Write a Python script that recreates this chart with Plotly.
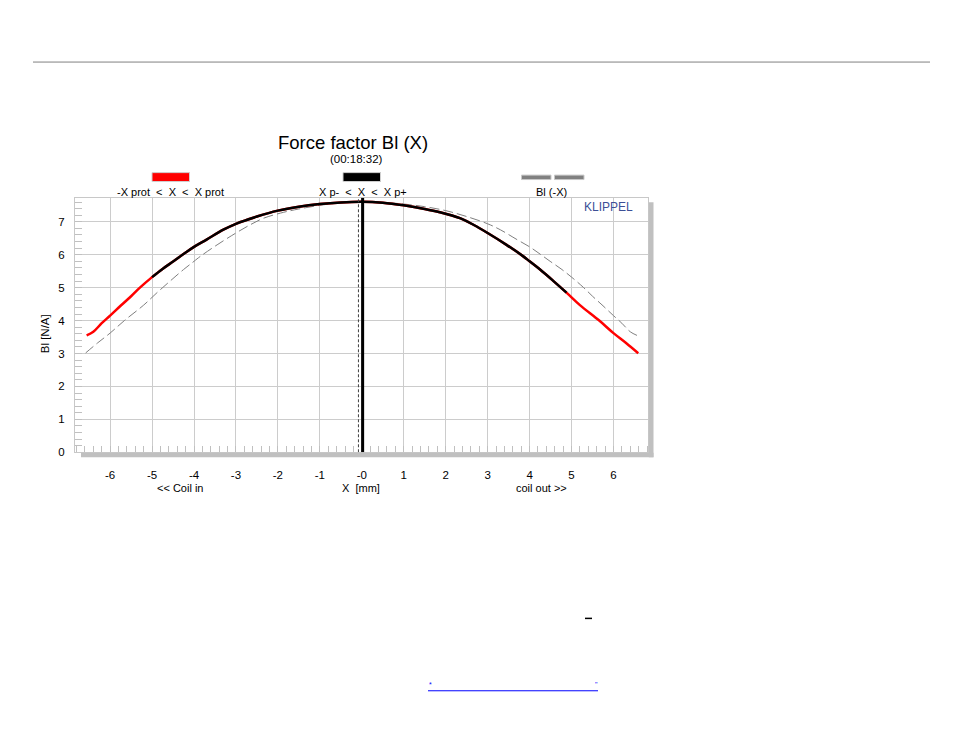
import plotly.graph_objects as go

# page body has an 8px margin: the figure is sized to fit inside it
PAGE_W, PAGE_H = 954, 738
OFF = 8
W, H = PAGE_W - 2 * OFF, PAGE_H - 2 * OFF

# Force factor Bl(X) measured curve (x in mm, Bl in N/A)
x_mm = [-6.56, -6.4, -6.2, -6.0, -5.75, -5.5, -5.29, -5.0, -4.75, -4.49, -4.25, -4.0,
        -3.7, -3.3, -3.0, -2.5, -2.0, -1.5, -1.0, -0.5, 0.0, 0.5, 1.0, 1.5, 1.86,
        2.34, 2.66, 3.0, 3.45, 3.85, 4.0, 4.25, 4.57, 4.88, 5.2, 5.66, 6.0, 6.3, 6.59]
bl = [3.55, 3.66, 3.92, 4.15, 4.45, 4.74, 5.0, 5.32, 5.57, 5.80, 6.02, 6.24,
      6.46, 6.76, 6.94, 7.16, 7.34, 7.46, 7.54, 7.59, 7.61, 7.58, 7.50, 7.39, 7.29,
      7.11, 6.91, 6.66, 6.30, 5.95, 5.80, 5.55, 5.20, 4.85, 4.47, 4.0, 3.62, 3.32, 3.01]

xp_minus = -5.0     # X p-
xp_plus = 4.88      # X p+
x_rest = 0.02       # solid vertical marker
x_offset = -0.08    # dashed vertical marker

x_tickvals = [-6, -5, -4, -3, -2, -1, 0, 1, 2, 3, 4, 5, 6]
x_ticktext = ["-6", "-5", "-4", "-3", "-2", "-1", "-0", "1", "2", "3", "4", "5", "6"]
y_tickvals = [0, 1, 2, 3, 4, 5, 6, 7]
y_ticktext = ["0", "1", "2", "3", "4", "5", "6", "7"]

x_range = [-6.837, 6.830]
y_range = [0, 7.732]

FONT = "Liberation Sans, Arial, sans-serif"


def px(v):
    return (v - OFF) / W


def py(v):
    return 1 - (v - OFF) / H


fig = go.Figure()

# Bl(-X): mirrored curve
fig.add_trace(go.Scatter(
    x=[-v for v in x_mm], y=bl, mode="lines", line_shape="spline",
    line=dict(color="#7f7f7f", width=1, dash="10px,4px"), hoverinfo="skip"))
# -Xprot < X < Xprot
fig.add_trace(go.Scatter(
    x=x_mm, y=bl, mode="lines", line_shape="spline",
    line=dict(color="#ff0000", width=2.5), hoverinfo="skip"))
# Xp- < X < Xp+
inner = [(a, b) for a, b in zip(x_mm, bl) if xp_minus <= a <= xp_plus]
fig.add_trace(go.Scatter(
    x=[a for a, _ in inner], y=[b for _, b in inner], mode="lines", line_shape="spline",
    line=dict(color="#000000", width=2.5), hoverinfo="skip"))

shapes = []
# vertical markers
shapes.append(dict(type="line", xref="x", yref="y", x0=x_offset, x1=x_offset,
                   y0=y_range[0], y1=y_range[1],
                   line=dict(color="#404040", width=1, dash="3px,2px")))
shapes.append(dict(type="line", xref="x", yref="y", x0=x_rest, x1=x_rest,
                   y0=y_range[0], y1=y_range[1],
                   line=dict(color="#000000", width=3)))
# top rule
shapes.append(dict(type="line", xref="paper", yref="paper",
                   x0=px(33), x1=px(930), y0=py(62.5), y1=py(62.5),
                   line=dict(color="#808080", width=1)))
# plot shadows
shapes.append(dict(type="rect", xref="paper", yref="paper",
                   x0=px(648.8), x1=px(653.5), y0=py(204), y1=py(461),
                   fillcolor="#c0c0c0", line=dict(width=0)))
shapes.append(dict(type="rect", xref="paper", yref="paper",
                   x0=px(81), x1=px(653.5), y0=py(456.5), y1=py(461),
                   fillcolor="#c0c0c0", line=dict(width=0)))
# legend swatches
shapes.append(dict(type="rect", xref="paper", yref="paper",
                   x0=px(152), x1=px(189.5), y0=py(174), y1=py(183),
                   fillcolor="#ff0000", line=dict(color="#d0d0d0", width=1)))
shapes.append(dict(type="rect", xref="paper", yref="paper",
                   x0=px(343), x1=px(380.5), y0=py(174), y1=py(183),
                   fillcolor="#000000", line=dict(color="#d0d0d0", width=1)))
shapes.append(dict(type="rect", xref="paper", yref="paper",
                   x0=px(521.5), x1=px(551), y0=py(176.5), y1=py(181),
                   fillcolor="#808080", line=dict(color="#c8c8c8", width=1)))
shapes.append(dict(type="rect", xref="paper", yref="paper",
                   x0=px(554.5), x1=px(584), y0=py(176.5), y1=py(181),
                   fillcolor="#808080", line=dict(color="#c8c8c8", width=1)))
# bottom decorations
shapes.append(dict(type="line", xref="paper", yref="paper",
                   x0=px(585), x1=px(592), y0=py(623.5), y1=py(623.5),
                   line=dict(color="#000000", width=1.5)))
shapes.append(dict(type="line", xref="paper", yref="paper",
                   x0=px(428), x1=px(598), y0=py(696.5), y1=py(696.5),
                   line=dict(color="#0000ff", width=1)))


def ann(text, x, y, size=11, color="#000000", xanchor="center", textangle=0):
    return dict(text=text, x=px(x), y=py(y), xref="paper", yref="paper",
                showarrow=False, xanchor=xanchor, yanchor="middle",
                textangle=textangle,
                font=dict(family=FONT, size=size, color=color))


annotations = [
    ann("Force factor Bl (X)", 352.5, 143.5, size=18.5),
    ann("(00:18:32)", 356, 160, size=11.5),
    ann("-X prot  &lt;  X  &lt;  X prot", 170, 193.5, size=11),
    ann("X p-  &lt;  X  &lt;  X p+", 362.5, 193.5, size=11),
    ann("Bl (-X)", 551.7, 193.5, size=11),
    ann("KLIPPEL", 635, 209, size=12, color="#3c4f96", xanchor="right"),
    ann("&lt;&lt; Coil in", 180, 492, size=11),
    ann("X  [mm]", 361, 492, size=11),
    ann("coil out &gt;&gt;", 541, 492, size=11),
    ann("Bl [N/A]", 45, 337, size=11.5, textangle=-90),
    ann("*", 430, 690, size=7, color="#0000ff"),
    ann("\"", 596, 690, size=7, color="#0000ff"),
]

fig.update_layout(
    width=W, height=H,
    margin=dict(l=0, r=0, t=0, b=0),
    paper_bgcolor="#ffffff", plot_bgcolor="#ffffff",
    showlegend=False,
    font=dict(family=FONT, size=11, color="#000000"),
    shapes=shapes, annotations=annotations,
)

fig.update_xaxes(
    domain=[px(75), px(648.3)], range=x_range,
    tickvals=x_tickvals, ticktext=x_ticktext,
    ticks="inside", ticklen=6, tickcolor="#c0c0c0",
    showgrid=True, gridcolor="#cccccc", gridwidth=1,
    zeroline=False, showline=True, linecolor="#c8c8c8", linewidth=1, mirror=True,
    minor=dict(dtick=0.2, tick0=0, ticks="inside", ticklen=6, tickcolor="#c0c0c0",
               showgrid=False),
    tickfont=dict(family=FONT, size=11.5, color="#000000"),
    ticklabelstandoff=12,
)
fig.update_yaxes(
    domain=[py(456), py(199.3)], range=y_range,
    tickvals=y_tickvals, ticktext=y_ticktext,
    ticks="inside", ticklen=7, tickcolor="#c0c0c0",
    showgrid=True, gridcolor="#cccccc", gridwidth=1,
    zeroline=False, showline=True, linecolor="#c8c8c8", linewidth=1, mirror=True,
    minor=dict(dtick=0.2, tick0=0, ticks="inside", ticklen=7, tickcolor="#c0c0c0",
               showgrid=False),
    tickfont=dict(family=FONT, size=11.5, color="#000000"),
    ticklabelstandoff=7,
)

fig.write_html("out.html")
